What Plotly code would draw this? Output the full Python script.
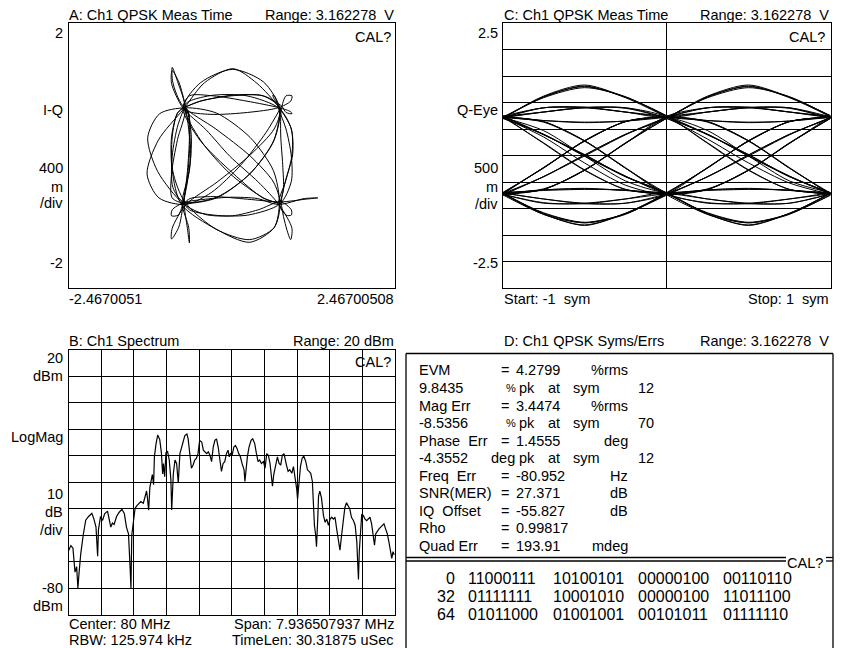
import plotly.graph_objects as go

W, H = 843, 648
FONT = "Liberation Sans, Arial, sans-serif"
FS = 14.5

# ---------------- data ----------------
# QPSK I / Q trajectory, 4 samples per symbol (symbol, +1/4, +1/2, +3/4, next symbol ...)
I_SAMPLES = [
    0.74, 0.52, 0.14, -0.31,   -0.70, -1.10, -1.28, -1.11,   -0.73, -0.41, 0.02, 0.38,
    0.71, 0.90, 0.92, 0.81,    0.75, 0.83, 0.89, 0.91,       0.72, 0.40, -0.03, -0.39,
    -0.74, -0.91, -0.90, -0.80, -0.70, -0.65, -0.62, -0.67,  -0.72, -0.67, -0.64, -0.65,
    -0.75, -0.64, -0.61, -0.66, -0.71, -0.66, -0.64, -0.67,  -0.73, -0.80, -0.91, -0.90,
    -0.69, -0.22, 0.28, 0.64,  0.73, 0.48, 0.01, -0.47,      -0.72, -0.47, -0.02, 0.48,
    0.70, 0.47, 0.02, -0.48,   -0.74, -0.64, -0.28, 0.23,    0.72, 0.89, 0.91, 0.82,
    0.76, 0.66, 0.62, 0.65,    0.71, 0.82, 0.90, 0.90,       0.73, 0.24, -0.27, -0.64,
    -0.71, -0.63, -0.28, 0.24, 0.74, 1.11, 1.30, 1.10,       0.70, 0.39, -0.01, -0.40,
    -0.72, -0.90, -0.91, -0.81, -0.74, -0.66, -0.63, -0.65,  -0.70, -0.81, -0.90, -0.89,
    -0.73, -0.23, 0.27, 0.64,  0.72, 0.48, 0.01, -0.47,      -0.75, -0.48, -0.01, 0.47,
    0.71, 0.64, 0.28, -0.23,   -0.72, -0.90, -0.91, -0.82,   -0.70, -0.82, -0.90, -0.89,
    -0.74, -0.24, 0.28, 0.63,  0.73, 0.64, 0.27, -0.24,      -0.71, -0.89, -0.90, -0.82,
    -0.72, -0.82, -0.91, -0.90, -0.76, -0.24, 0.27, 0.64,    0.72, 0.63, 0.28, -0.23,
    -0.70, -1.09, -1.27, -1.12, -0.73, -0.40, 0.01, 0.40,    0.74, 0.90, 0.90, 0.82,
    0.71, 0.81, 0.91, 0.90,    0.72, 0.23, -0.28, -0.64,     -0.73, -0.64, -0.27, 0.24,
    0.70, 0.89, 0.91, 0.82,    0.75, 0.74, 0.77, 0.78,
    0.72,
]
Q_SAMPLES = [
    0.72, 0.35, -0.14, -0.56,  -0.74, -0.64, -0.28, 0.23,    0.70, 1.10, 1.31, 1.09,
    0.73, 0.40, 0.01, -0.39,   -0.71, -1.11, -1.27, -1.10,   -0.75, -0.40, -0.01, 0.39,
    0.72, 1.09, 1.28, 1.11,    0.74, 0.39, 0.02, -0.40,      -0.70, -1.10, -1.32, -1.09,
    -0.72, -0.23, 0.27, 0.64,  0.73, 0.64, 0.28, -0.24,      -0.71, -1.08, -1.26, -1.10,
    -0.74, -0.40, 0.01, 0.40,  0.70, 1.11, 1.30, 1.10,       0.75, 0.23, -0.28, -0.64,
    -0.72, -0.64, -0.27, 0.23, 0.71, 0.90, 0.90, 0.82,       0.72, 0.66, 0.63, 0.65,
    0.74, 0.82, 0.91, 0.89,    0.70, 0.40, -0.01, -0.39,     -0.73, -0.90, -0.90, -0.82,
    -0.72, -0.65, -0.62, -0.66, -0.70, -0.66, -0.64, -0.65,  -0.74, -0.65, -0.63, -0.66,
    -0.71, -0.82, -0.91, -0.90, -0.73, -0.23, 0.28, 0.64,    0.72, 0.47, -0.01, -0.48,
    -0.70, -0.63, -0.28, 0.23, 0.74, 0.90, 0.91, 0.82,       0.71, 0.82, 0.90, 0.90,
    0.73, 0.24, -0.27, -0.64,  -0.72, -0.64, -0.28, 0.24,    0.70, 1.12, 1.33, 1.10,
    0.75, 0.40, -0.01, -0.40,  -0.72, -1.09, -1.27, -1.11,   -0.70, -0.24, 0.28, 0.64,
    0.73, 0.64, 0.28, -0.23,   -0.74, -1.11, -1.31, -1.09,   -0.71, -0.23, 0.27, 0.64,
    0.72, 0.63, 0.27, -0.24,   -0.73, -0.89, -0.91, -0.82,   -0.70, -0.82, -0.90, -0.90,
    -0.72, -0.40, 0.01, 0.40,  0.71, 0.90, 0.91, 0.82,       0.74, 0.66, 0.62, 0.65,
    0.72, 0.82, 0.90, 0.90,    0.70, 0.31, -0.14, -0.52,
    -0.73,
]
EYE_T = [-1, -0.75, -0.5, -0.25, 0, 0.25, 0.5, 0.75, 1]
SAMPLES_PER_SYM = 4

# Spectrum (MHz, dBm)
SPEC_FREQ = [
    76.03, 76.09, 76.14, 76.19, 76.23, 76.26, 76.29, 76.33, 76.39, 76.45, 76.52, 76.60,
    76.65, 76.70, 76.74, 76.76, 76.81, 76.86, 76.91, 76.98, 77.02, 77.06, 77.10, 77.14,
    77.20, 77.26, 77.33, 77.39, 77.44, 77.49, 77.53, 77.55, 77.57, 77.61, 77.65, 77.69,
    77.75, 77.79, 77.85, 77.90, 77.93, 77.95, 77.98, 78.01, 78.04, 78.07, 78.10, 78.12,
    78.16, 78.20, 78.25, 78.29, 78.32, 78.34, 78.37, 78.40, 78.44, 78.48, 78.52, 78.54,
    78.58,
    78.62, 78.66, 78.70, 78.74, 78.78, 78.82, 78.86, 78.91, 78.94, 78.98, 79.02, 79.06,
    79.10, 79.14, 79.18, 79.22, 79.27, 79.31, 79.35, 79.39, 79.43, 79.47, 79.51, 79.55,
    79.59, 79.63, 79.67, 79.71, 79.75, 79.79, 79.83, 79.87, 79.91, 79.94, 79.97, 80.01,
    80.05, 80.09, 80.13, 80.17, 80.21, 80.25, 80.30, 80.32, 80.35, 80.38, 80.42, 80.47,
    80.51, 80.56, 80.60, 80.64, 80.68, 80.72, 80.77, 80.81, 80.85, 80.89, 80.93, 80.97,
    80.99, 81.02, 81.07, 81.11, 81.15, 81.19, 81.23, 81.27,
    81.33, 81.37, 81.41, 81.46, 81.50, 81.54, 81.58, 81.60, 81.63, 81.67, 81.71, 81.75,
    81.80, 81.84, 81.88, 81.92, 81.96, 81.98, 82.01, 82.04, 82.06, 82.09, 82.11, 82.14,
    82.18, 82.23, 82.27, 82.31, 82.35, 82.39, 82.43, 82.47, 82.51, 82.55, 82.59, 82.63,
    82.67, 82.71, 82.75, 82.79, 82.83, 82.87, 82.91, 82.96, 83.00, 83.04, 83.06, 83.08,
    83.10, 83.13, 83.16, 83.20, 83.24, 83.28, 83.32, 83.36, 83.40, 83.44, 83.47, 83.50,
    83.54, 83.58, 83.62, 83.66, 83.70, 83.74, 83.78, 83.82, 83.86, 83.89, 83.92, 83.95,
]
SPEC_DBM = [
    -56, -54, -55, -64, -62, -70, -64, -57, -50, -44.4, -43, -41.8,
    -44, -47, -58, -48, -43, -44.5, -42, -41, -44, -47, -45.5, -46,
    -43, -41.5, -40.3, -42, -47, -49.6, -62.6, -70, -50, -44, -40, -39,
    -38, -37.4, -38, -34.5, -33.4, -36, -40.6, -32, -29, -27.2, -31, -20.5,
    -15.5, -12.3, -14, -19, -27, -23, -28, -19, -18.5, -21.6, -29, -40.6,
    -27,
    -21.7, -23, -30.4, -19.3, -16.8, -14.3, -12.5, -11.9, -13.7, -19.3, -24.8, -23.6,
    -21.7, -21.1, -19.3, -14.3, -14.9, -18, -18.6, -19.3, -18.6, -19.9, -22.3, -16.8,
    -14.3, -13.7, -16.8, -21.7, -26, -23, -22.3, -19.3, -18, -20.5, -19.3, -19.9,
    -16.8, -16.2, -17.4, -19.3, -20.5, -23, -25.4, -29.8, -24.2, -20.5, -16.8, -14.3,
    -13.7, -15.6, -19.3, -22.3, -21.7, -23, -22.3, -24.8, -19.3, -19.9, -23, -28.5,
    -31.6, -27.3, -23, -20.5, -23, -23.6, -19.9, -19.3,
    -23.6, -26, -25.4, -26.7, -24.2, -27.9, -32.8, -36.5, -31.6, -24.2, -21.1, -20.2,
    -22.3, -25.4, -26, -26.7, -29.8, -37.8, -46.4, -50.1, -54.4, -44, -35.3, -33.5,
    -35.9, -42.7, -45.2, -44, -46.4, -44, -43.3, -44, -43.3, -47.7, -52.6, -55.7,
    -50.1, -44, -39.6, -37.8, -39, -40.2, -43.3, -44.6, -46.4, -52.6, -60, -66.8,
    -56.3, -46.4, -42.1, -42.7, -44, -44.6, -44, -43.3, -45.8, -49.5, -53.8, -49.5,
    -48.3, -47.7, -47, -46.4, -45.8, -47.7, -49.5, -52.6, -56.3, -58.8, -56.3, -57.5,
]
SPEC_START, SPEC_STOP = 76.031746, 83.968254

# Error summary table rows (label, value, unit)
ERR_LABELS = ["EVM", "Mag Err", "Phase\u00a0 Err", "Freq\u00a0 Err", "SNR(MER)", "IQ\u00a0 Offset", "Rho", "Quad Err"]
ERR_VALUES = ["4.2799", "3.4474", "1.4555", "-80.952", "27.371", "-55.827", "0.99817", "193.91"]
ERR_UNITS = ["%rms", "%rms", "deg", "Hz", "dB", "dB", "", "mdeg"]
PEAK_VALUES = ["9.8435", "-8.5356", "-4.3552"]
PEAK_UNITS = ["%", "%", "deg"]
PEAK_SYMS = ["12", "70", "12"]
BIT_INDEX = ["0", "32", "64"]
BIT_ROWS = [
    ["11000111", "10100101", "00000100", "00110110"],
    ["01111111", "10001010", "00000100", "11011100"],
    ["01011000", "01001001", "00101011", "01111110"],
]

# ---------------- helpers ----------------
def px(x):
    return x / W


def py(y):
    return 1 - y / H


annotations = []


def txt(s, x, y, anchor="left", size=FS):
    annotations.append(dict(
        text=s, x=px(x), y=py(y), xref="paper", yref="paper",
        xanchor=anchor, yanchor="middle", showarrow=False,
        font=dict(family=FONT, size=size, color="black"),
        borderpad=0,
    ))


fig = go.Figure()

# Panel A: I-Q trajectory
fig.add_trace(go.Scatter(
    x=I_SAMPLES, y=Q_SAMPLES, mode="lines",
    line=dict(color="black", width=1, shape="spline", smoothing=0.8),
    xaxis="x", yaxis="y", hoverinfo="skip",
))

# Panel C: Q eye diagram (2 symbols per trace)
S = SAMPLES_PER_SYM
n_sym = (len(Q_SAMPLES) - 1) // S + 1
ex, ey = [], []
for k in range(1, n_sym - 1):
    ex += EYE_T + [None]
    ey += Q_SAMPLES[S * (k - 1): S * (k + 1) + 1] + [None]
fig.add_trace(go.Scatter(
    x=ex, y=ey, mode="lines",
    line=dict(color="black", width=1, shape="spline", smoothing=0.8),
    xaxis="x2", yaxis="y2", hoverinfo="skip", connectgaps=False,
))

# Panel B: spectrum
fig.add_trace(go.Scatter(
    x=SPEC_FREQ, y=SPEC_DBM, mode="lines",
    line=dict(color="black", width=1.2),
    xaxis="x3", yaxis="y3", hoverinfo="skip",
))

LW = 1.3
base = dict(showline=True, mirror=True, linecolor="black", linewidth=LW,
            zeroline=False, showticklabels=False, ticks="", fixedrange=True)

# Panel geometry (pixels)
AX0, AX1 = 68.5, 395
CX0, CX1 = 502.5, 830.5
TOP0, TOP1 = 23, 288
BOT0, BOT1 = 349.5, 614.5

fig.update_layout(
    width=W, height=H,
    margin=dict(l=0, r=0, t=0, b=0),
    paper_bgcolor="white", plot_bgcolor="white",
    showlegend=False, hovermode=False,
    xaxis=dict(domain=[px(AX0), px(AX1)], range=[-2.4670051, 2.46700508], showgrid=False, anchor="y", **base),
    yaxis=dict(domain=[py(TOP1), py(TOP0)], range=[-2, 2], showgrid=False, anchor="x", **base),
    xaxis2=dict(domain=[px(CX0), px(CX1)], range=[-1, 1], showgrid=True, dtick=1, tick0=0,
                gridcolor="black", gridwidth=LW, anchor="y2", **base),
    yaxis2=dict(domain=[py(TOP1), py(TOP0)], range=[-2.5, 2.5], showgrid=True, dtick=0.5, tick0=0,
                gridcolor="black", gridwidth=LW, anchor="x2", **base),
    xaxis3=dict(domain=[px(AX0), px(AX1)], range=[SPEC_START, SPEC_STOP], showgrid=True,
                dtick=(SPEC_STOP - SPEC_START) / 10, tick0=SPEC_START,
                gridcolor="black", gridwidth=LW, anchor="y3", **base),
    yaxis3=dict(domain=[py(BOT1), py(BOT0)], range=[-80, 20], showgrid=True, dtick=10, tick0=0,
                gridcolor="black", gridwidth=LW, anchor="x3", **base),
)

# Panel D frame
DX0, DX1, DY0 = 406, 833, 353.5
shapes = []


def hline(x0, x1, y):
    shapes.append(dict(type="line", xref="paper", yref="paper", x0=px(x0), x1=px(x1), y0=py(y), y1=py(y),
                       line=dict(color="black", width=LW)))


def vline(x, y0, y1):
    shapes.append(dict(type="line", xref="paper", yref="paper", x0=px(x), x1=px(x), y0=py(y0), y1=py(y1),
                       line=dict(color="black", width=LW)))


hline(DX0, DX1, DY0)
vline(DX0, DY0, 660)
vline(DX1, DY0, 660)
hline(DX0, 786, 557.5)
hline(DX0, 786, 561)
hline(826, DX1, 557.5)
hline(826, DX1, 561)
fig.update_layout(shapes=shapes)

# ---------------- text ----------------
RNG = "Range: 3.162278\u00a0 V"
# Panel A
txt("A: Ch1 QPSK Meas Time", 68, 15)
txt(RNG, 395, 15, "right")
txt("CAL?", 392, 37, "right")
for s, y in [("2", 33), ("I-Q", 110), ("400", 168), ("m", 187), ("/div", 203), ("-2", 263)]:
    txt(s, 64, y, "right")
txt("-2.4670051", 68, 299)
txt("2.46700508", 395, 299, "right")

# Panel C
txt("C: Ch1 QPSK Meas Time", 503, 15)
txt(RNG, 830, 15, "right")
txt("CAL?", 826, 37, "right")
for s, y in [("2.5", 33), ("Q-Eye", 110), ("500", 168), ("m", 187), ("/div", 204), ("-2.5", 263)]:
    txt(s, 499, y, "right")
txt("Start: -1\u00a0 sym", 503, 299)
txt("Stop: 1\u00a0 sym", 830, 299, "right")

# Panel B
txt("B: Ch1 Spectrum", 68, 341)
txt("Range: 20 dBm", 395, 341, "right")
txt("CAL?", 392, 362, "right")
for s, y in [("20", 358), ("dBm", 376), ("LogMag", 437), ("10", 494), ("dB", 512),
             ("/div", 530), ("-80", 588), ("dBm", 606)]:
    txt(s, 64, y, "right")
txt("Center: 80 MHz", 68, 624)
txt("RBW: 125.974 kHz", 68, 640)
txt("Span: 7.936507937 MHz", 395, 624, "right")
txt("TimeLen: 30.31875 uSec", 395, 640, "right")

# Panel D
txt("D: Ch1 QPSK Syms/Errs", 503, 341)
txt(RNG, 830, 341, "right")
ROW_Y = [370, 388, 405.7, 423.3, 440.7, 458.3, 475.7, 493.3, 510.7, 528.3, 545.7]
main_rows = [0, 2, 4, 6, 7, 8, 9, 10]
for i, r in enumerate(main_rows):
    y = ROW_Y[r]
    txt(ERR_LABELS[i], 418, y)
    txt("=", 500, y)
    txt(ERR_VALUES[i], 515, y)
    if ERR_UNITS[i]:
        txt(ERR_UNITS[i], 629, y, "right")
for j, r in enumerate([1, 3, 5]):
    y = ROW_Y[r]
    txt(PEAK_VALUES[j], 418, y)
    if PEAK_UNITS[j] == "%":
        txt("%", 505, y, "left", 11)
    else:
        txt("deg", 490, y)
    txt("pk", 518, y)
    txt("at", 547, y)
    txt("sym", 572, y)
    txt(PEAK_SYMS[j], 637, y)
txt("CAL?", 824, 563, "right")

BIT_Y = [578, 596, 614]
GROUP_X = [467, 552, 637, 722]
for r in range(3):
    txt(BIT_INDEX[r], 456, BIT_Y[r], "right", 16)
    for g in range(4):
        txt(BIT_ROWS[r][g], GROUP_X[g], BIT_Y[r], "left", 16)

fig.update_layout(annotations=annotations)
fig.write_html(
    "out.html",
    config={"displayModeBar": False},
    post_script="document.body.style.margin='0px';document.body.style.padding='0px';",
)
